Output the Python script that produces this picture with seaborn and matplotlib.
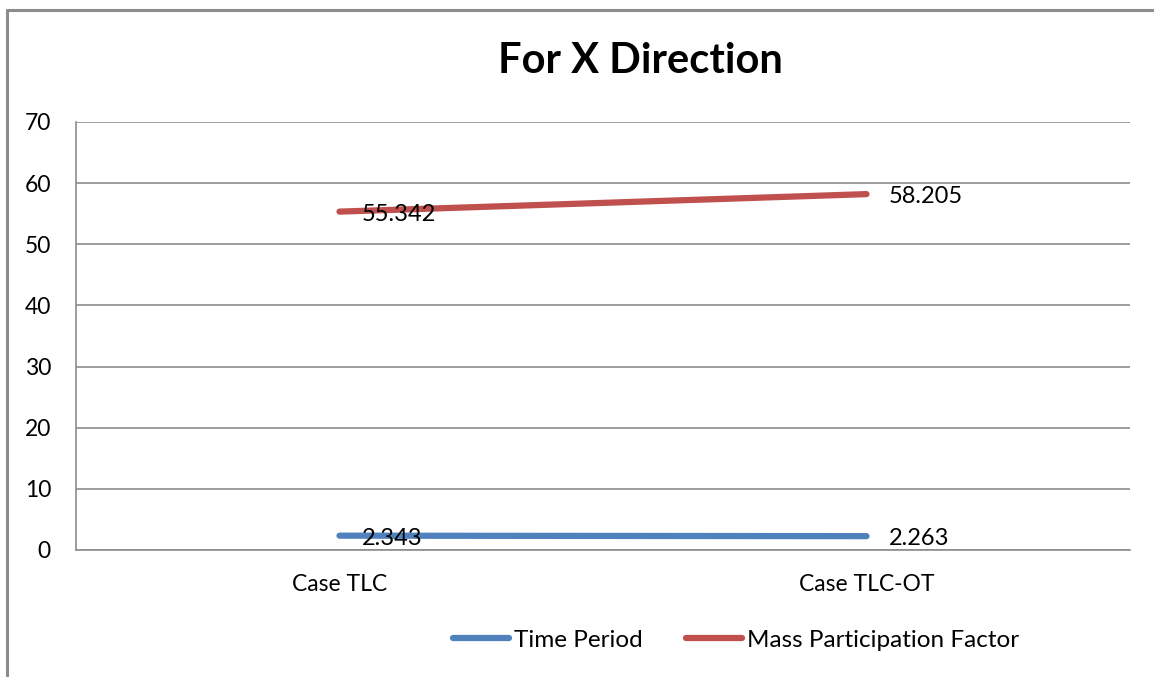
import matplotlib
matplotlib.use("Agg")
import matplotlib.pyplot as plt
import seaborn as sns
import pandas as pd
from matplotlib.lines import Line2D

categories = ["Case TLC", "Case TLC-OT"]
time_period = [2.343, 2.263]
mass_participation = [55.342, 58.205]
series_names = ["Time Period", "Mass Participation Factor"]
y_ticks = [0, 10, 20, 30, 40, 50, 60, 70]
title = "For X Direction"

colors = ["#4F81BD", "#C0504D"]

df = pd.DataFrame({
    "case": categories * 2,
    "x": [0, 1] * 2,
    "value": time_period + mass_participation,
    "series": [series_names[0]] * 2 + [series_names[1]] * 2,
})

sns.set_style("white")
plt.rcParams['font.family'] = ['Lato', 'DejaVu Sans']
plt.rcParams['text.color'] = 'black'
plt.rcParams['xtick.color'] = 'black'
plt.rcParams['ytick.color'] = 'black'

W, H = 1154, 677
fig = plt.figure(figsize=(W / 100, H / 100), dpi=100)
ax = fig.add_axes([76 / W, 1 - 550 / H, (1130 - 76) / W, (550 - 122) / H])

sns.lineplot(data=df, x="x", y="value", hue="series", palette=colors,
             linewidth=4.5, ax=ax, legend=False, solid_capstyle="round")

ax.set_xlim(-0.5, 1.5)
ax.set_ylim(0, 70)
ax.set_yticks(y_ticks)
ax.set_xticks([0, 1])
ax.set_xticklabels(categories)
ax.set_xlabel("")
ax.set_ylabel("")
ax.tick_params(axis="y", labelsize=16.5, length=0, pad=18, labelcolor="black")
ax.tick_params(axis="x", labelsize=16.5, length=0, pad=17, labelcolor="black")
ax.grid(axis="y", color="#8C8C8C", linewidth=1.2)
ax.set_axisbelow(True)
for s in ["top", "right"]:
    ax.spines[s].set_visible(False)
for s in ["left", "bottom"]:
    ax.spines[s].set_color("#8C8C8C")
    ax.spines[s].set_linewidth(1.2)

for vals in (time_period, mass_participation):
    for i, v in enumerate(vals):
        ax.annotate(f"{v:.3f}", (i, v), xytext=(16, -2), textcoords="offset points",
                    ha="left", va="center", fontsize=17, color="black")

fig.text(640 / W, 1 - 61 / H, title, ha="center", va="center",
         fontsize=30, fontweight="bold", color="black")

handles = [Line2D([0], [0], color=c, lw=4.5, solid_capstyle="round") for c in colors]
fig.legend(handles, series_names, loc="center", bbox_to_anchor=(736 / W, 1 - 640 / H),
           ncol=2, frameon=False, fontsize=17.5, handlelength=2.3, handletextpad=0.2,
           columnspacing=1.8, labelcolor="black")

border = dict(color="#8C8C8C", linewidth=2.2, transform=fig.transFigure)
fig.add_artist(Line2D([7 / W, 7 / W], [0, 1 - 10 / H], **border))
fig.add_artist(Line2D([7 / W, 1], [1 - 10 / H, 1 - 10 / H], **border))

fig.savefig("out.png", dpi=100)
